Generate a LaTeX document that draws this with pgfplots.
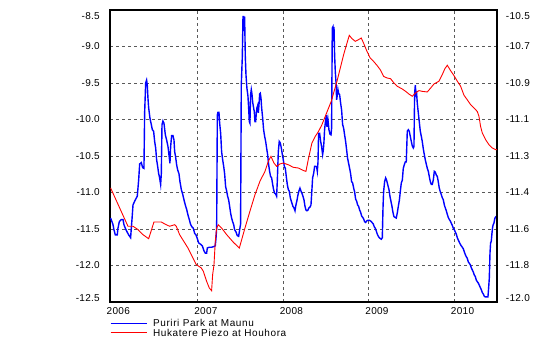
\documentclass[border=0pt]{standalone}
\usepackage{pgfplots}
\pgfplotsset{compat=1.18}
\usepackage{fontspec}
\setmainfont{Liberation Sans}[LetterSpace=3]
\newfontfamily\legfont{Liberation Sans}[LetterSpace=6]
\begin{document}
\begin{tikzpicture}
\path[use as bounding box] (0bp,0bp) rectangle (553bp,345bp);
\begin{axis}[
  at={(110bp,43bp)}, anchor=south west,
  width=387bp, height=292bp, scale only axis,
  xmin=2005.975, xmax=2010.5,
  ymin=-12.5, ymax=-8.5,
  xtick={2005.975,2007,2008,2009,2010},
  xticklabels={2006,2007,2008,2009,2010},
  ytick={-12.5,-12,-11.5,-11,-10.5,-10,-9.5,-9,-8.5},
  yticklabels={{\raisebox{4bp}[\height][\depth]{-12.5}},-12.0,-11.5,-11.0,-10.5,-10.0,-9.5,-9.0,{\raisebox{-6.5bp}[\height][\depth]{-8.5}}},
  major tick length=0pt,
  tick label style={font=\fontsize{10bp}{12bp}\selectfont},
  xticklabel style={anchor=north west, inner sep=0pt, xshift=-3.5bp, yshift=-5.7bp},
  yticklabel style={anchor=east, inner sep=0pt, xshift=-10bp},
  grid=major,
  major grid style={black!65, line width=0.8bp, dash pattern=on 3bp off 3bp},
  axis line style={line width=1.2bp},
  legend style={at={(0,0)}, anchor=north west, yshift=-17.7bp, draw=none, fill=none,
    inner sep=0pt, outer sep=0pt, row sep=2.2bp, column sep=5.7bp,
    font=\legfont\fontsize{10bp}{10bp}\selectfont,
    nodes={inner sep=0pt, text height=7.2bp, text depth=0pt}},
  legend cell align=left,
  legend image code/.code={\draw[#1] (0bp,0bp) -- (36bp,0bp);},
]
\addplot[blue, line width=1.4bp] coordinates {
(2005.982,-11.35) (2005.998,-11.40) (2006.010,-11.44) (2006.021,-11.51) (2006.037,-11.58)
(2006.060,-11.58) (2006.068,-11.49) (2006.084,-11.40) (2006.107,-11.37) (2006.127,-11.37)
(2006.138,-11.44) (2006.154,-11.49) (2006.170,-11.53) (2006.193,-11.58) (2006.216,-11.62)
(2006.232,-11.37) (2006.244,-11.17) (2006.263,-11.12) (2006.294,-11.05) (2006.310,-10.83)
(2006.322,-10.61) (2006.341,-10.59) (2006.357,-10.66) (2006.372,-10.67) (2006.380,-9.91)
(2006.392,-9.50) (2006.403,-9.46) (2006.411,-9.53) (2006.419,-9.71) (2006.427,-9.84)
(2006.442,-9.98) (2006.458,-10.07) (2006.470,-10.14) (2006.485,-10.16) (2006.497,-10.30)
(2006.509,-10.39) (2006.520,-10.55) (2006.532,-10.64) (2006.544,-10.74) (2006.555,-10.80)
(2006.567,-10.89) (2006.575,-10.74) (2006.583,-10.07) (2006.594,-10.02) (2006.606,-10.05)
(2006.622,-10.21) (2006.637,-10.28) (2006.653,-10.37) (2006.664,-10.48) (2006.676,-10.60)
(2006.684,-10.37) (2006.696,-10.22) (2006.711,-10.22) (2006.723,-10.28) (2006.731,-10.44)
(2006.742,-10.51) (2006.754,-10.62) (2006.766,-10.69) (2006.781,-10.74) (2006.793,-10.85)
(2006.809,-10.96) (2006.824,-11.02) (2006.840,-11.10) (2006.855,-11.17) (2006.871,-11.23)
(2006.887,-11.31) (2006.902,-11.37) (2006.918,-11.44) (2006.933,-11.47) (2006.949,-11.49)
(2006.965,-11.56) (2006.980,-11.58) (2006.996,-11.63) (2007.011,-11.69) (2007.035,-11.71)
(2007.054,-11.73) (2007.074,-11.80) (2007.089,-11.83) (2007.105,-11.83) (2007.113,-11.76)
(2007.136,-11.75) (2007.163,-11.75) (2007.191,-11.74) (2007.206,-11.73) (2007.214,-11.63)
(2007.222,-11.49) (2007.230,-9.94) (2007.237,-9.90) (2007.249,-9.90) (2007.257,-10.05)
(2007.269,-10.19) (2007.280,-10.44) (2007.292,-10.55) (2007.304,-10.64) (2007.315,-10.74)
(2007.327,-10.92) (2007.339,-10.98) (2007.350,-11.05) (2007.362,-11.10) (2007.374,-11.19)
(2007.385,-11.28) (2007.397,-11.35) (2007.409,-11.40) (2007.421,-11.44) (2007.432,-11.51)
(2007.448,-11.54) (2007.463,-11.59) (2007.479,-11.60) (2007.491,-11.51) (2007.502,-11.43)
(2007.510,-9.53) (2007.522,-9.14) (2007.530,-8.59) (2007.537,-8.59) (2007.545,-8.79)
(2007.549,-8.59) (2007.557,-9.14) (2007.565,-9.39) (2007.576,-9.57) (2007.588,-9.68)
(2007.596,-9.84) (2007.604,-10.03) (2007.611,-10.05) (2007.619,-9.66) (2007.627,-9.59)
(2007.635,-9.65) (2007.643,-9.76) (2007.654,-9.84) (2007.662,-9.89) (2007.670,-10.03)
(2007.678,-10.03) (2007.686,-9.91) (2007.693,-9.84) (2007.701,-9.81) (2007.709,-9.91)
(2007.717,-9.80) (2007.725,-9.65) (2007.732,-9.64) (2007.740,-9.70) (2007.748,-9.84)
(2007.760,-9.98) (2007.771,-10.14) (2007.783,-10.23) (2007.795,-10.30) (2007.806,-10.39)
(2007.818,-10.48) (2007.830,-10.62) (2007.841,-10.71) (2007.853,-10.78) (2007.865,-10.80)
(2007.877,-10.89) (2007.888,-10.96) (2007.900,-11.01) (2007.912,-11.02) (2007.923,-11.05)
(2007.931,-10.85) (2007.943,-10.44) (2007.954,-10.30) (2007.966,-10.32) (2007.978,-10.39)
(2007.990,-10.48) (2008.001,-10.55) (2008.013,-10.64) (2008.025,-10.67) (2008.036,-10.78)
(2008.048,-10.89) (2008.060,-10.96) (2008.071,-10.98) (2008.083,-11.07) (2008.095,-11.12)
(2008.114,-11.19) (2008.126,-11.21) (2008.138,-11.25) (2008.149,-11.17) (2008.161,-11.11)
(2008.173,-11.03) (2008.184,-10.98) (2008.196,-10.94) (2008.208,-10.98) (2008.219,-11.01)
(2008.231,-11.05) (2008.243,-11.10) (2008.255,-11.19) (2008.266,-11.24) (2008.278,-11.25)
(2008.290,-11.24) (2008.301,-11.21) (2008.313,-11.20) (2008.325,-11.17) (2008.336,-10.96)
(2008.344,-10.80) (2008.356,-10.74) (2008.368,-10.64) (2008.379,-10.64) (2008.391,-10.65)
(2008.399,-10.71) (2008.407,-10.58) (2008.414,-10.19) (2008.426,-10.19) (2008.438,-10.30)
(2008.449,-10.37) (2008.461,-10.48) (2008.469,-10.42) (2008.477,-10.30) (2008.484,-10.14)
(2008.492,-10.05) (2008.504,-9.94) (2008.512,-10.10) (2008.523,-10.00) (2008.535,-10.14)
(2008.547,-10.20) (2008.559,-10.21) (2008.566,-10.12) (2008.574,-8.75) (2008.582,-8.73)
(2008.586,-8.93) (2008.594,-8.73) (2008.601,-9.11) (2008.609,-9.34) (2008.617,-9.48)
(2008.625,-9.73) (2008.633,-9.66) (2008.640,-9.59) (2008.648,-9.64) (2008.660,-9.66)
(2008.672,-9.78) (2008.683,-9.87) (2008.695,-10.07) (2008.707,-10.12) (2008.718,-10.21)
(2008.730,-10.30) (2008.742,-10.42) (2008.753,-10.53) (2008.765,-10.60) (2008.777,-10.67)
(2008.788,-10.74) (2008.800,-10.85) (2008.812,-10.87) (2008.824,-10.94) (2008.835,-10.99)
(2008.847,-11.09) (2008.859,-11.12) (2008.870,-11.17) (2008.882,-11.19) (2008.894,-11.24)
(2008.905,-11.27) (2008.917,-11.32) (2008.929,-11.34) (2008.940,-11.36) (2008.952,-11.40)
(2008.964,-11.41) (2008.976,-11.39) (2008.991,-11.38) (2009.007,-11.38) (2009.022,-11.39)
(2009.038,-11.41) (2009.053,-11.43) (2009.065,-11.47) (2009.077,-11.49) (2009.089,-11.53)
(2009.100,-11.57) (2009.112,-11.60) (2009.124,-11.62) (2009.135,-11.63) (2009.147,-11.64)
(2009.159,-11.62) (2009.167,-11.21) (2009.174,-10.99) (2009.186,-10.85) (2009.198,-10.80)
(2009.209,-10.83) (2009.237,-10.96) (2009.248,-11.05) (2009.260,-11.12) (2009.272,-11.19)
(2009.283,-11.27) (2009.295,-11.33) (2009.307,-11.34) (2009.322,-11.35) (2009.334,-11.28)
(2009.346,-11.19) (2009.358,-11.11) (2009.369,-10.99) (2009.381,-10.87) (2009.393,-10.83)
(2009.404,-10.67) (2009.416,-10.62) (2009.428,-10.58) (2009.439,-10.58) (2009.451,-10.16)
(2009.463,-10.14) (2009.474,-10.16) (2009.486,-10.23) (2009.498,-10.30) (2009.509,-10.36)
(2009.521,-10.39) (2009.529,-10.37) (2009.537,-9.64) (2009.545,-9.53) (2009.552,-9.66)
(2009.560,-9.64) (2009.568,-9.78) (2009.580,-9.91) (2009.591,-10.03) (2009.603,-10.16)
(2009.615,-10.23) (2009.626,-10.30) (2009.638,-10.40) (2009.650,-10.48) (2009.661,-10.55)
(2009.673,-10.61) (2009.685,-10.67) (2009.697,-10.71) (2009.708,-10.78) (2009.720,-10.85)
(2009.732,-10.89) (2009.743,-10.89) (2009.755,-10.83) (2009.767,-10.71) (2009.778,-10.72)
(2009.790,-10.76) (2009.802,-10.78) (2009.813,-10.85) (2009.825,-10.94) (2009.837,-10.99)
(2009.849,-11.03) (2009.860,-11.07) (2009.872,-11.10) (2009.884,-11.17) (2009.895,-11.21)
(2009.907,-11.25) (2009.919,-11.30) (2009.930,-11.34) (2009.942,-11.37) (2009.954,-11.39)
(2009.965,-11.42) (2009.977,-11.45) (2009.989,-11.49) (2010.001,-11.51) (2010.012,-11.54)
(2010.024,-11.57) (2010.036,-11.62) (2010.047,-11.65) (2010.059,-11.68) (2010.071,-11.71)
(2010.082,-11.73) (2010.094,-11.75) (2010.106,-11.77) (2010.117,-11.81) (2010.129,-11.85)
(2010.141,-11.88) (2010.152,-11.90) (2010.164,-11.95) (2010.176,-11.97) (2010.188,-11.99)
(2010.199,-12.03) (2010.211,-12.06) (2010.223,-12.09) (2010.234,-12.13) (2010.246,-12.15)
(2010.258,-12.20) (2010.269,-12.22) (2010.281,-12.24) (2010.293,-12.27) (2010.304,-12.30)
(2010.316,-12.33) (2010.328,-12.37) (2010.340,-12.39) (2010.351,-12.42) (2010.363,-12.43)
(2010.379,-12.43) (2010.394,-12.43) (2010.402,-12.31) (2010.410,-12.17) (2010.418,-11.83)
(2010.425,-11.69) (2010.433,-11.67) (2010.441,-11.56) (2010.449,-11.47) (2010.456,-11.44)
(2010.464,-11.42) (2010.476,-11.35) (2010.488,-11.33) (2010.499,-11.33)
};
\addlegendentry{Puriri Park at Maunu}
\addlegendimage{red, line width=0.9bp}
\addlegendentry{Hukatere Piezo at Houhora}
\end{axis}
\begin{axis}[
  at={(110bp,43bp)}, anchor=south west,
  width=387bp, height=292bp, scale only axis,
  xmin=2005.975, xmax=2010.5,
  ymin=-12.0, ymax=-10.5,
  axis x line=none, axis y line*=right,
  ytick={-12,-11.8125,-11.625,-11.4375,-11.25,-11.0625,-10.875,-10.6875,-10.5},
  yticklabels={{\raisebox{4bp}[\height][\depth]{-12.0}},-11.8,-11.6,-11.4,-11.3,-11.1,-10.9,-10.7,{\raisebox{-6.5bp}[\height][\depth]{-10.5}}},
  major tick length=0pt,
  tick label style={font=\fontsize{10bp}{12bp}\selectfont},
  yticklabel style={anchor=west, inner sep=0pt, xshift=8.7bp},
  axis line style={line width=1.2bp},
]
\addplot[red, line width=0.9bp] coordinates {
(2005.982,-11.414) (2006.185,-11.611) (2006.244,-11.611) (2006.302,-11.628) (2006.360,-11.654)
(2006.427,-11.675) (2006.489,-11.589) (2006.575,-11.589) (2006.614,-11.599) (2006.672,-11.611)
(2006.731,-11.603) (2006.750,-11.611) (2006.789,-11.654) (2006.887,-11.723) (2006.984,-11.808)
(2007.042,-11.825) (2007.066,-11.842) (2007.105,-11.894) (2007.136,-11.928) (2007.163,-11.942)
(2007.175,-11.860) (2007.191,-11.808) (2007.206,-11.688) (2007.222,-11.620) (2007.241,-11.603)
(2007.280,-11.620) (2007.339,-11.654) (2007.417,-11.693) (2007.487,-11.723) (2007.553,-11.620)
(2007.611,-11.534) (2007.670,-11.449) (2007.728,-11.380) (2007.787,-11.329) (2007.826,-11.277)
(2007.857,-11.252) (2007.892,-11.286) (2007.923,-11.303) (2007.962,-11.291) (2008.001,-11.286)
(2008.060,-11.295) (2008.118,-11.308) (2008.180,-11.312) (2008.239,-11.325) (2008.266,-11.329)
(2008.297,-11.260) (2008.336,-11.183) (2008.375,-11.149) (2008.414,-11.123) (2008.453,-11.089)
(2008.492,-11.046) (2008.531,-11.003) (2008.562,-10.969) (2008.590,-10.926) (2008.629,-10.866)
(2008.668,-10.798) (2008.707,-10.729) (2008.746,-10.670) (2008.773,-10.630) (2008.804,-10.647)
(2008.843,-10.661) (2008.882,-10.652) (2008.913,-10.644) (2008.940,-10.670) (2008.979,-10.712)
(2009.018,-10.747) (2009.057,-10.764) (2009.096,-10.784) (2009.135,-10.807) (2009.174,-10.841)
(2009.213,-10.849) (2009.256,-10.853) (2009.295,-10.875) (2009.334,-10.892) (2009.393,-10.906)
(2009.432,-10.918) (2009.471,-10.932) (2009.509,-10.943) (2009.548,-10.926) (2009.587,-10.914)
(2009.626,-10.918) (2009.685,-10.921) (2009.724,-10.901) (2009.763,-10.880) (2009.821,-10.866)
(2009.860,-10.832) (2009.891,-10.801) (2009.919,-10.784) (2009.958,-10.812) (2009.997,-10.837)
(2010.036,-10.866) (2010.075,-10.892) (2010.114,-10.938) (2010.152,-10.961) (2010.191,-10.986)
(2010.230,-11.003) (2010.269,-11.021) (2010.289,-11.046) (2010.308,-11.098) (2010.328,-11.132)
(2010.367,-11.166) (2010.406,-11.192) (2010.445,-11.209) (2010.484,-11.217) (2010.499,-11.217)
};
\end{axis}
\end{tikzpicture}
\end{document}
